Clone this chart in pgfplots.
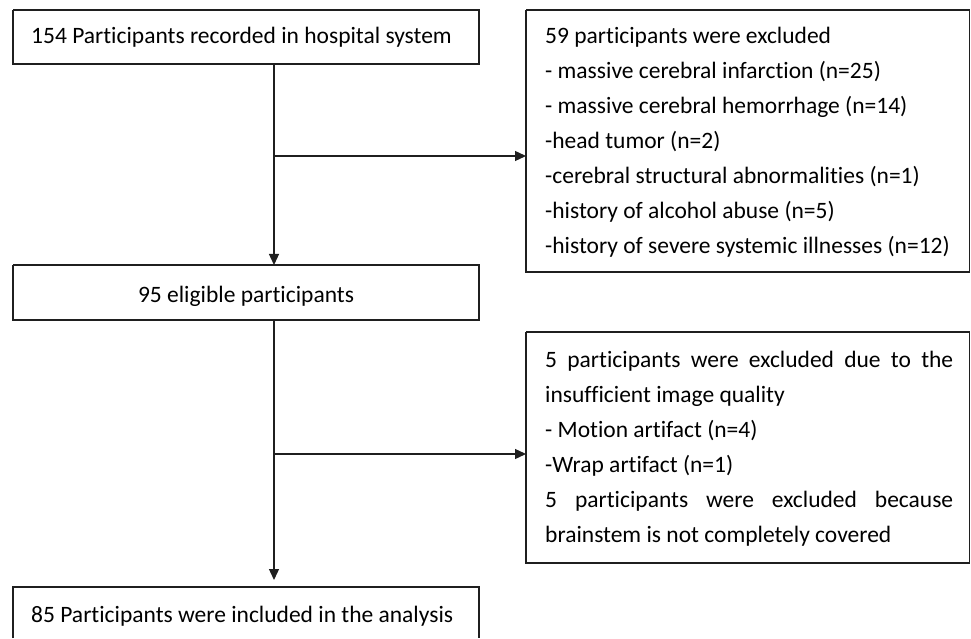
\documentclass[border=0pt]{standalone}
\usepackage{fontspec}
\setmainfont[Ligatures=NoCommon]{Carlito}
\usepackage{pgfplots}
\pgfplotsset{compat=1.18}
\usetikzlibrary{arrows.meta}
\newcommand\ff{\fontsize{23.5}{35}\selectfont}
\begin{document}
\begin{tikzpicture}
\begin{axis}[width=971pt,height=638pt,scale only axis,
  xmin=0,xmax=971,ymin=0,ymax=638,y dir=reverse,hide axis,clip=false,
  ln/.style={mark=none,line width=1.3pt,draw=black!88,fill=none}]
\path (rel axis cs:0,0) rectangle (rel axis cs:1,1);
% boxes
\addplot[ln] coordinates {(13,10)(479,10)(479,64)(13,64)(13,10)};
\addplot[ln] coordinates {(13,265)(479,265)(479,320)(13,320)(13,265)};
\addplot[ln] coordinates {(13,638)(13,587)(479,587)(479,638)};
\addplot[ln] coordinates {(526,10)(969.5,10)(969.5,272)(526,272)(526,10)};
\addplot[ln] coordinates {(526,332)(969.5,332)(969.5,563)(526,563)(526,332)};
% connectors
\addplot[ln,-{Triangle[length=11pt,width=10pt]}] coordinates {(274,64)(274,265)};
\addplot[ln,-{Triangle[length=11pt,width=10pt]}] coordinates {(274,156)(526,156)};
\addplot[ln,-{Triangle[length=11pt,width=10pt]}] coordinates {(274,320)(274,580)};
\addplot[ln,-{Triangle[length=11pt,width=10pt]}] coordinates {(273,454)(526,454)};
% texts
\begin{scope}[every node/.style={inner sep=0pt,font=\ff,text=black}]
\node[anchor=base west] at (axis cs:31,44) {154 Participants recorded in hospital system};
\node[anchor=base] at (axis cs:246,302) {95 eligible participants};
\node[anchor=base west] at (axis cs:31,622) {85 Participants were included in the analysis};
\node[anchor=base west] at (axis cs:545,44) {59 participants were excluded};
\node[anchor=base west] at (axis cs:545,79) {- massive cerebral infarction (n=25)};
\node[anchor=base west] at (axis cs:545,114) {- massive cerebral hemorrhage (n=14)};
\node[anchor=base west] at (axis cs:545,149) {-head tumor (n=2)};
\node[anchor=base west] at (axis cs:545,184) {-cerebral structural abnormalities (n=1)};
\node[anchor=base west] at (axis cs:545,219) {-history of alcohol abuse (n=5)};
\node[anchor=base west] at (axis cs:545,254) {-history of severe systemic illnesses (n=12)};
\node[anchor=base west] at (axis cs:545,367) {\makebox[408pt][s]{5 participants were excluded due to the}};
\node[anchor=base west] at (axis cs:545,402) {insufficient image quality};
\node[anchor=base west] at (axis cs:545,437) {- Motion artifact (n=4)};
\node[anchor=base west] at (axis cs:545,472) {-Wrap artifact (n=1)};
\node[anchor=base west] at (axis cs:545,507) {\makebox[408pt][s]{5 participants were excluded because}};
\node[anchor=base west] at (axis cs:545,542) {brainstem is not completely covered};
\end{scope}
\end{axis}
\end{tikzpicture}
\end{document}
